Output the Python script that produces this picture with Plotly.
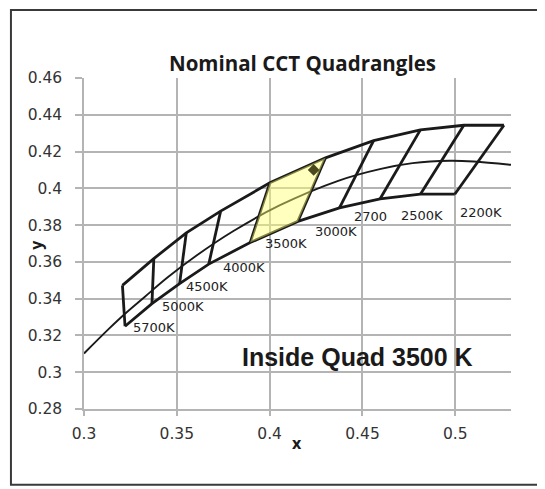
import plotly.graph_objects as go

# Quadrangle grid: upper corners and lower corners (CIE x, y)
top_x = [0.3207, 0.3376, 0.3551, 0.3736, 0.4001, 0.4301, 0.4560, 0.4812, 0.5046, 0.5262]
top_y = [0.3472, 0.3618, 0.3758, 0.3876, 0.4030, 0.4166, 0.4259, 0.4318, 0.4343, 0.4343]
bot_x = [0.3221, 0.3366, 0.3515, 0.3672, 0.3895, 0.4152, 0.4376, 0.4595, 0.4812, 0.4997]
bot_y = [0.3250, 0.3373, 0.3482, 0.3588, 0.3705, 0.3820, 0.3894, 0.3943, 0.3968, 0.3968]

# Planckian locus
loc_x = [0.3000, 0.3135, 0.3221, 0.3325, 0.3451, 0.3608, 0.3805, 0.4053, 0.4369, 0.4599, 0.4770, 0.4970, 0.5100, 0.5300]
loc_y = [0.3102, 0.3237, 0.3318, 0.3408, 0.3516, 0.3636, 0.3768, 0.3907, 0.4041, 0.4106, 0.4137, 0.4150, 0.4146, 0.4128]

# Highlighted 3500K quadrangle
quad_x = [0.4001, 0.4301, 0.4152, 0.3895, 0.4001]
quad_y = [0.4030, 0.4166, 0.3820, 0.3705, 0.4030]

# Measured point
pt_x = [0.4237]
pt_y = [0.4100]

# CCT labels
lab_text = ["5700K", "5000K", "4500K", "4000K", "3500K", "3000K", "2700", "2500K", "2200K"]
lab_x = [0.3378, 0.3534, 0.3663, 0.3863, 0.4090, 0.4359, 0.4543, 0.4820, 0.5141]
lab_y = [0.3243, 0.3355, 0.3464, 0.3567, 0.3698, 0.3768, 0.3845, 0.3850, 0.3866]

LINE = "#1a1a1a"
fig = go.Figure()

fig.add_trace(go.Scatter(x=loc_x, y=loc_y, mode="lines", line=dict(color=LINE, width=1.9, shape="spline"),
                         hoverinfo="skip", showlegend=False))
fig.add_trace(go.Scatter(x=top_x, y=top_y, mode="lines", line=dict(color=LINE, width=2.8),
                         showlegend=False))
fig.add_trace(go.Scatter(x=bot_x, y=bot_y, mode="lines", line=dict(color=LINE, width=2.8),
                         showlegend=False))
for tx, ty, bx, by in zip(top_x, top_y, bot_x, bot_y):
    fig.add_trace(go.Scatter(x=[tx, bx], y=[ty, by], mode="lines",
                             line=dict(color=LINE, width=2.8), showlegend=False))

fig.add_trace(go.Scatter(x=quad_x, y=quad_y, mode="lines", fill="toself",
                         fillcolor="rgba(255,255,110,0.45)", line=dict(width=0),
                         showlegend=False))
fig.add_trace(go.Scatter(x=pt_x, y=pt_y, mode="markers",
                         marker=dict(symbol="diamond", size=9, color="#4a4a1e"),
                         showlegend=False))

for t, x, y in zip(lab_text, lab_x, lab_y):
    fig.add_annotation(x=x, y=y, text=t, showarrow=False,
                       font=dict(family="DejaVu Sans", size=13, color="#222222"))

fig.add_annotation(x=0.4473, y=0.3084, text="<b>Inside Quad 3500 K</b>", showarrow=False,
                   font=dict(family="Liberation Sans", size=25, color="#1a1a1a"))

PW, PH = 426.7, 331.3  # plot area size in px
fig.add_annotation(xref="paper", yref="paper", x=0.511, y=1.0453,
                   xanchor="center", yanchor="middle",
                   text="<b>Nominal CCT Quadrangles</b>", showarrow=False,
                   font=dict(family="Open Sans", size=20.5, color="#1a1a1a"))
fig.add_annotation(xref="paper", yref="paper", x=(297 - 84) / PW, y=(409.3 - 443) / PH,
                   xanchor="center", yanchor="middle",
                   text="<b>x</b>", showarrow=False,
                   font=dict(family="Open Sans", size=16, color="#1a1a1a"))
fig.add_annotation(xref="paper", yref="paper", x=(36.5 - 84) / PW, y=(409.3 - 244.5) / PH,
                   xanchor="center", yanchor="middle",
                   text="<b>y</b>", showarrow=False, textangle=-90,
                   font=dict(family="Open Sans", size=16, color="#1a1a1a"))

fig.add_shape(type="rect", xref="paper", yref="paper",
              x0=(11 - 84) / PW, x1=(543 - 84) / PW,
              y0=(409.3 - 485) / PH, y1=(409.3 - 10) / PH,
              line=dict(color="#3a3a3a", width=2))

GRID = "#b4b4b4"
fig.update_xaxes(range=[0.3, 0.53], tickvals=[0.3, 0.35, 0.4, 0.45, 0.5],
                 ticktext=["0.3", "0.35", "0.4", "0.45", "0.5"],
                 showgrid=True, gridcolor=GRID, gridwidth=1.5, zeroline=False,
                 showline=True, linecolor=GRID, linewidth=1.5,
                 ticks="outside", ticklen=5, tickcolor=GRID, tickwidth=1.5,
                 ticklabelstandoff=5,
                 tickfont=dict(family="DejaVu Sans", size=15.5, color="#333333"))
fig.update_yaxes(range=[0.28, 0.46], tickvals=[0.28, 0.3, 0.32, 0.34, 0.36, 0.38, 0.4, 0.42, 0.44, 0.46],
                 ticktext=["0.28", "0.3", "0.32", "0.34", "0.36", "0.38", "0.4", "0.42", "0.44", "0.46"],
                 showgrid=True, gridcolor=GRID, gridwidth=1.5, zeroline=False,
                 showline=True, linecolor=GRID, linewidth=1.5,
                 ticks="outside", ticklen=7, tickcolor=GRID, tickwidth=1.5,
                 ticklabelstandoff=10,
                 tickfont=dict(family="DejaVu Sans", size=15.5, color="#333333"))

# the page places the figure 8px from the window's corner; shift margins to compensate
OFF = 8
fig.update_layout(width=545, height=489,
                  margin=dict(l=84 - OFF, r=545 - (510.7 - OFF), t=78 - OFF, b=489 - (409.3 - OFF)),
                  plot_bgcolor="white", paper_bgcolor="white", showlegend=False)

fig.write_html("out.html")
